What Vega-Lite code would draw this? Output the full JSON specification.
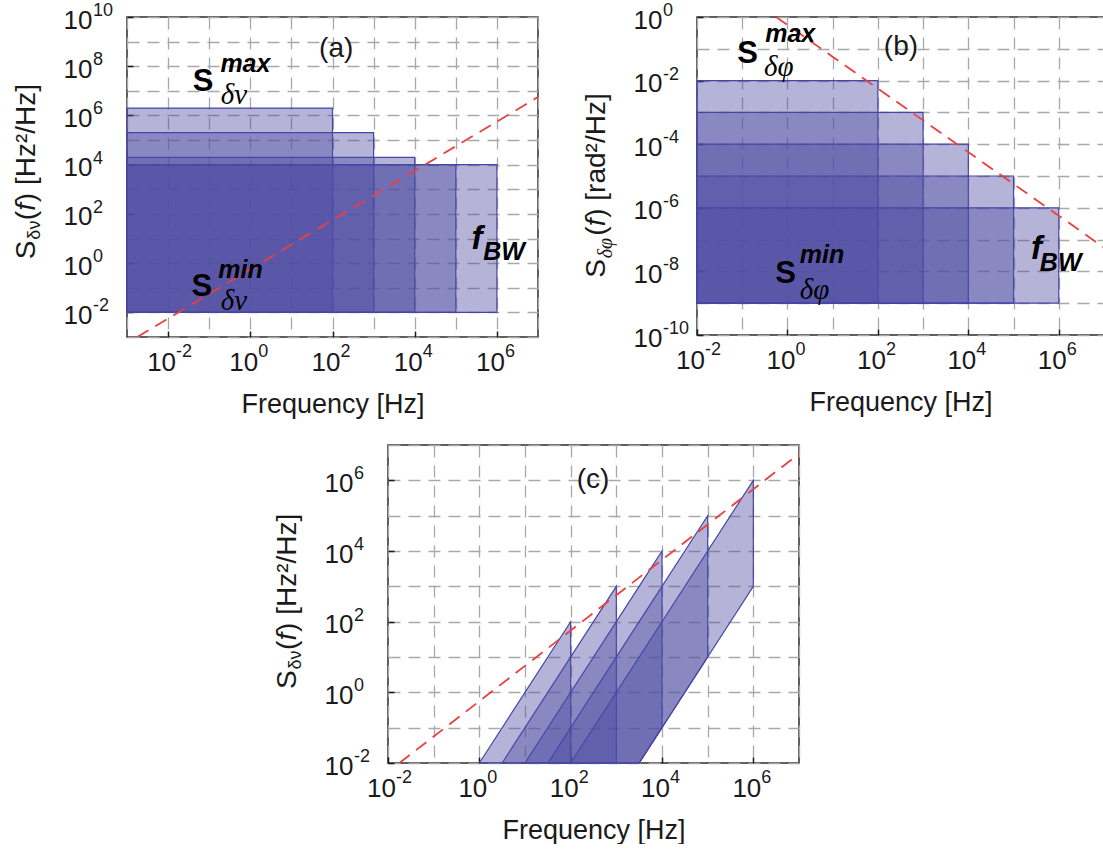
{
  "$schema": "https://vega.github.io/schema/vega-lite/v6.json",
  "background": "white",
  "padding": {"left": 12, "top": 1, "right": 0, "bottom": 0},
  "config": {
    "view": {"stroke": "#2b2b2b", "strokeWidth": 1.5},
    "font": "Liberation Sans",
    "axis": {
      "labelFont": "Liberation Sans", "labelFontSize": 26, "labelColor": "#1a1a1a",
      "titleFont": "Liberation Sans", "titleFontSize": 27, "titleFontWeight": "normal", "titleColor": "#1a1a1a",
      "grid": true, "gridColor": "#a8a8a8", "gridDash": [12, 8], "gridWidth": 1.3,
      "domain": false, "tickSize": -6, "tickWidth": 1.5,
      "labelFlush": false, "labelOverlap": false, "labelBound": false
    },
    "axisX": {"labelPadding": 18, "titlePadding": 16, "labelOffset": -7},
    "axisY": {"labelPadding": 70, "labelAlign": "left", "labelOffset": 3}
  },
  "datasets": {
    "rectA": [
      {"f": 0.001, "f2": 100, "s": 0.01, "s2": 2000000},
      {"f": 0.001, "f2": 1000, "s": 0.01, "s2": 200000},
      {"f": 0.001, "f2": 10000, "s": 0.01, "s2": 20000},
      {"f": 0.001, "f2": 100000, "s": 0.01, "s2": 10000},
      {"f": 0.001, "f2": 1000000, "s": 0.01, "s2": 10000}
    ],
    "rectB": [
      {"f": 0.01, "f2": 100, "s": 1e-9, "s2": 0.01},
      {"f": 0.01, "f2": 1000, "s": 1e-9, "s2": 0.001},
      {"f": 0.01, "f2": 10000, "s": 1e-9, "s2": 0.0001},
      {"f": 0.01, "f2": 100000, "s": 1e-9, "s2": 0.00001},
      {"f": 0.01, "f2": 1000000, "s": 1e-9, "s2": 0.000001}
    ],
    "areaC": [
      {"k": 1, "f": 1, "s": 0.01, "s2": 0.01},
      {"k": 1, "f": 100, "s": 100, "s2": 0.01},
      {"k": 2, "f": 3.162, "s": 0.01, "s2": 0.01},
      {"k": 2, "f": 1000, "s": 1000, "s2": 0.01},
      {"k": 3, "f": 10, "s": 0.01, "s2": 0.01},
      {"k": 3, "f": 3162, "s": 1000, "s2": 0.01},
      {"k": 3, "f": 10000, "s": 10000, "s2": 0.1},
      {"k": 4, "f": 31.62, "s": 0.01, "s2": 0.01},
      {"k": 4, "f": 3162, "s": 100, "s2": 0.01},
      {"k": 4, "f": 100000, "s": 100000, "s2": 10},
      {"k": 5, "f": 100, "s": 0.01, "s2": 0.01},
      {"k": 5, "f": 3162, "s": 10, "s2": 0.01},
      {"k": 5, "f": 1000000, "s": 1000000, "s2": 1000}
    ],
    "lineA": [{"f": 0.00178, "s": 0.001}, {"f": 10000000, "s": 5620000}],
    "lineB": [{"f": 0.562, "s": 1}, {"f": 10000000, "s": 5.62e-8}],
    "lineC": [{"f": 0.0178, "s": 0.01}, {"f": 10000000, "s": 5620000}],
    "textA": [
      {"f": 123, "s": 500000000, "t": "(a)", "r": "panel"},
      {"f": 0.0708, "s": 23000000, "t": "S", "r": "S"},
      {"f": 0.76, "s": 126000000, "t": "max", "r": "sup"},
      {"f": 0.4, "s": 7100000, "t": "δν", "r": "sub"},
      {"f": 0.066, "s": 0.105, "t": "S", "r": "S"},
      {"f": 0.58, "s": 0.52, "t": "min", "r": "sup"},
      {"f": 0.4, "s": 0.03, "t": "δν", "r": "sub"},
      {"f": 330000, "s": 9.5, "t": "f", "r": "f"},
      {"f": 1500000, "s": 2.8, "t": "BW", "r": "BW"}
    ],
    "textB": [
      {"f": 324, "s": 0.112, "t": "(b)", "r": "panel"},
      {"f": 0.132, "s": 0.068, "t": "S", "r": "S"},
      {"f": 1.15, "s": 0.3, "t": "max", "r": "sup"},
      {"f": 0.64, "s": 0.027, "t": "δφ", "r": "sub"},
      {"f": 0.91, "s": 8.5e-9, "t": "S", "r": "S"},
      {"f": 5.8, "s": 3.3e-8, "t": "min", "r": "sup"},
      {"f": 3.95, "s": 2.6e-9, "t": "δφ", "r": "sub"},
      {"f": 320000, "s": 5.2e-8, "t": "f", "r": "f"},
      {"f": 1100000, "s": 1.9e-8, "t": "BW", "r": "BW"}
    ],
    "textC": [
      {"f": 310, "s": 1000000, "t": "(c)", "r": "panel"}
    ],
    "titleA": [
      {"f": 0.001, "s": 1.456, "t": "S", "p": "S"},
      {"f": 0.001, "s": 1.456, "t": "δν", "p": "sub"},
      {"f": 0.001, "s": 1.456, "t": "(", "p": "o"},
      {"f": 0.001, "s": 1.456, "t": "f", "p": "fi"},
      {"f": 0.001, "s": 1.456, "t": ") [Hz²/Hz]", "p": "r"}
    ],
    "titleB": [
      {"f": 0.01, "s": 6.3e-9, "t": "S", "p": "S"},
      {"f": 0.01, "s": 6.3e-9, "t": "δφ", "p": "sub"},
      {"f": 0.01, "s": 6.3e-9, "t": "(", "p": "o"},
      {"f": 0.01, "s": 6.3e-9, "t": "f", "p": "fi"},
      {"f": 0.01, "s": 6.3e-9, "t": ") [rad²/Hz]", "p": "r"}
    ],
    "titleC": [
      {"f": 0.01, "s": 1.25, "t": "S", "p": "S"},
      {"f": 0.01, "s": 1.25, "t": "δν", "p": "sub"},
      {"f": 0.01, "s": 1.25, "t": "(", "p": "o"},
      {"f": 0.01, "s": 1.25, "t": "f", "p": "fi"},
      {"f": 0.01, "s": 1.25, "t": ") [Hz²/Hz]", "p": "r"}
    ],
    "expA": [
      {"f": 0.01, "s": 0.001, "t": "-2", "ax": "x"},
      {"f": 1, "s": 0.001, "t": "0", "ax": "x"},
      {"f": 100, "s": 0.001, "t": "2", "ax": "x"},
      {"f": 10000, "s": 0.001, "t": "4", "ax": "x"},
      {"f": 1000000, "s": 0.001, "t": "6", "ax": "x"},
      {"f": 0.001, "s": 0.01, "t": "-2", "ax": "y"},
      {"f": 0.001, "s": 1, "t": "0", "ax": "y"},
      {"f": 0.001, "s": 100, "t": "2", "ax": "y"},
      {"f": 0.001, "s": 10000, "t": "4", "ax": "y"},
      {"f": 0.001, "s": 1000000, "t": "6", "ax": "y"},
      {"f": 0.001, "s": 100000000, "t": "8", "ax": "y"},
      {"f": 0.001, "s": 10000000000, "t": "10", "ax": "y"}
    ],
    "expB": [
      {"f": 0.01, "s": 1e-10, "t": "-2", "ax": "x"},
      {"f": 1, "s": 1e-10, "t": "0", "ax": "x"},
      {"f": 100, "s": 1e-10, "t": "2", "ax": "x"},
      {"f": 10000, "s": 1e-10, "t": "4", "ax": "x"},
      {"f": 1000000, "s": 1e-10, "t": "6", "ax": "x"},
      {"f": 0.01, "s": 1, "t": "0", "ax": "y"},
      {"f": 0.01, "s": 0.01, "t": "-2", "ax": "y"},
      {"f": 0.01, "s": 0.0001, "t": "-4", "ax": "y"},
      {"f": 0.01, "s": 0.000001, "t": "-6", "ax": "y"},
      {"f": 0.01, "s": 1e-8, "t": "-8", "ax": "y"},
      {"f": 0.01, "s": 1e-10, "t": "-10", "ax": "y"}
    ],
    "expC": [
      {"f": 0.01, "s": 0.01, "t": "-2", "ax": "x"},
      {"f": 1, "s": 0.01, "t": "0", "ax": "x"},
      {"f": 100, "s": 0.01, "t": "2", "ax": "x"},
      {"f": 10000, "s": 0.01, "t": "4", "ax": "x"},
      {"f": 1000000, "s": 0.01, "t": "6", "ax": "x"},
      {"f": 0.01, "s": 0.01, "t": "-2", "ax": "y"},
      {"f": 0.01, "s": 1, "t": "0", "ax": "y"},
      {"f": 0.01, "s": 100, "t": "2", "ax": "y"},
      {"f": 0.01, "s": 10000, "t": "4", "ax": "y"},
      {"f": 0.01, "s": 1000000, "t": "6", "ax": "y"}
    ],
    "spacer": [{"blank": 1}]
  },
  "spacing": 16,
  "vconcat": [
    {
      "bounds": "flush",
      "spacing": 159,
      "hconcat": [
        {
          "width": 411, "height": 320,
          "encoding": {
            "x": {"field": "f", "type": "quantitative", "title": "Frequency [Hz]",
              "scale": {"type": "log", "domain": [0.001, 10000000], "nice": false},
              "axis": {"values": [0.001, 0.01, 0.1, 1, 10, 100, 1000, 10000, 100000, 1000000, 10000000],
                "tickColor": {"condition": {"test": "abs(round(log(datum.value)/LN10)) % 2 == 1", "value": "transparent"}, "value": "#1a1a1a"},
                "labelExpr": "abs(round(log(datum.value)/LN10)) % 2 == 1 ? '' : '10'"}},
            "y": {"field": "s", "type": "quantitative", "title": null,
              "scale": {"type": "log", "domain": [0.001, 10000000000], "nice": false},
              "axis": {"values": [0.001, 0.01, 0.1, 1, 10, 100, 1000, 10000, 100000, 1000000, 10000000, 100000000, 1000000000, 10000000000],
                "tickColor": {"condition": {"test": "abs(round(log(datum.value)/LN10)) % 2 == 1", "value": "transparent"}, "value": "#1a1a1a"},
                "labelExpr": "abs(round(log(datum.value)/LN10)) % 2 == 1 ? '' : '10'"}}
          },
          "layer": [
            {"data": {"name": "rectA"}, "mark": {"type": "rect", "fill": "#4f4ca3", "fillOpacity": 0.42, "stroke": "#4646a8", "strokeWidth": 1.2},
              "encoding": {"x2": {"field": "f2"}, "y2": {"field": "s2"}}},
            {"data": {"name": "lineA"}, "mark": {"type": "line", "color": "#e8413f", "strokeDash": [13, 8], "strokeWidth": 1.8, "clip": true}, "encoding": {}},
            {"data": {"name": "expA"}, "transform": [{"filter": "datum.ax == 'x'"}], "mark": {"type": "text", "font": "Liberation Sans", "fontSize": 18, "color": "#1a1a1a", "align": "left", "baseline": "middle", "dx": 8, "dy": 15}, "encoding": {"text": {"field": "t"}}},
            {"data": {"name": "expA"}, "transform": [{"filter": "datum.ax == 'y'"}], "mark": {"type": "text", "font": "Liberation Sans", "fontSize": 18, "color": "#1a1a1a", "align": "left", "baseline": "middle", "dx": -34, "dy": -6}, "encoding": {"text": {"field": "t"}}},
            {"data": {"name": "titleA"}, "transform": [{"filter": "datum.p == 'S'"}], "mark": {"type": "text", "font": "Liberation Sans", "fontSize": 28, "color": "#1a1a1a", "angle": -90, "align": "left", "baseline": "alphabetic", "dx": 0, "dy": -92}, "encoding": {"text": {"field": "t"}}},
            {"data": {"name": "titleA"}, "transform": [{"filter": "datum.p == 'sub'"}], "mark": {"type": "text", "font": "Liberation Sans", "fontSize": 18, "color": "#1a1a1a", "angle": -90, "align": "left", "baseline": "alphabetic", "dx": 19.5, "dy": -87}, "encoding": {"text": {"field": "t"}}},
            {"data": {"name": "titleA"}, "transform": [{"filter": "datum.p == 'o'"}], "mark": {"type": "text", "font": "Liberation Sans", "fontSize": 28, "color": "#1a1a1a", "angle": -90, "align": "left", "baseline": "alphabetic", "dx": 39, "dy": -92}, "encoding": {"text": {"field": "t"}}},
            {"data": {"name": "titleA"}, "transform": [{"filter": "datum.p == 'fi'"}], "mark": {"type": "text", "font": "Liberation Sans", "fontSize": 28, "fontStyle": "italic", "color": "#1a1a1a", "angle": -90, "align": "left", "baseline": "alphabetic", "dx": 48.5, "dy": -92}, "encoding": {"text": {"field": "t"}}},
            {"data": {"name": "titleA"}, "transform": [{"filter": "datum.p == 'r'"}], "mark": {"type": "text", "font": "Liberation Sans", "fontSize": 28, "color": "#1a1a1a", "angle": -90, "align": "left", "baseline": "alphabetic", "dx": 57, "dy": -92}, "encoding": {"text": {"field": "t"}}},
            {"data": {"name": "textA"}, "transform": [{"filter": "datum.r == 'panel'"}], "mark": {"type": "text", "font": "Liberation Sans", "fontSize": 28, "color": "#1a1a1a"}, "encoding": {"text": {"field": "t"}}},
            {"data": {"name": "textA"}, "transform": [{"filter": "datum.r == 'S'"}], "mark": {"type": "text", "font": "Liberation Sans", "fontSize": 31, "fontWeight": "bold", "color": "#000"}, "encoding": {"text": {"field": "t"}}},
            {"data": {"name": "textA"}, "transform": [{"filter": "datum.r == 'sup' || datum.r == 'BW'"}], "mark": {"type": "text", "font": "Liberation Sans", "fontSize": 25, "fontWeight": "bold", "fontStyle": "italic", "color": "#000"}, "encoding": {"text": {"field": "t"}}},
            {"data": {"name": "textA"}, "transform": [{"filter": "datum.r == 'sub'"}], "mark": {"type": "text", "font": "Liberation Serif", "fontSize": 29, "fontStyle": "italic", "color": "#000"}, "encoding": {"text": {"field": "t"}}},
            {"data": {"name": "textA"}, "transform": [{"filter": "datum.r == 'f'"}], "mark": {"type": "text", "font": "Liberation Sans", "fontSize": 33, "fontWeight": "bold", "fontStyle": "italic", "color": "#000"}, "encoding": {"text": {"field": "t"}}}
          ]
        },
        {
          "width": 407, "height": 318,
          "encoding": {
            "x": {"field": "f", "type": "quantitative", "title": "Frequency [Hz]",
              "scale": {"type": "log", "domain": [0.01, 10000000], "nice": false},
              "axis": {"values": [0.01, 0.1, 1, 10, 100, 1000, 10000, 100000, 1000000, 10000000],
                "tickColor": {"condition": {"test": "abs(round(log(datum.value)/LN10)) % 2 == 1", "value": "transparent"}, "value": "#1a1a1a"},
                "labelExpr": "abs(round(log(datum.value)/LN10)) % 2 == 1 ? '' : '10'"}},
            "y": {"field": "s", "type": "quantitative", "title": null,
              "scale": {"type": "log", "domain": [1e-10, 1], "nice": false},
              "axis": {"values": [1e-10, 1e-9, 1e-8, 1e-7, 1e-6, 1e-5, 1e-4, 0.001, 0.01, 0.1, 1],
                "tickColor": {"condition": {"test": "abs(round(log(datum.value)/LN10)) % 2 == 1", "value": "transparent"}, "value": "#1a1a1a"},
                "labelExpr": "abs(round(log(datum.value)/LN10)) % 2 == 1 ? '' : '10'"}}
          },
          "layer": [
            {"data": {"name": "rectB"}, "mark": {"type": "rect", "fill": "#4f4ca3", "fillOpacity": 0.42, "stroke": "#4646a8", "strokeWidth": 1.2},
              "encoding": {"x2": {"field": "f2"}, "y2": {"field": "s2"}}},
            {"data": {"name": "lineB"}, "mark": {"type": "line", "color": "#e8413f", "strokeDash": [13, 8], "strokeWidth": 1.8, "clip": true}, "encoding": {}},
            {"data": {"name": "expB"}, "transform": [{"filter": "datum.ax == 'x'"}], "mark": {"type": "text", "font": "Liberation Sans", "fontSize": 18, "color": "#1a1a1a", "align": "left", "baseline": "middle", "dx": 8, "dy": 15}, "encoding": {"text": {"field": "t"}}},
            {"data": {"name": "expB"}, "transform": [{"filter": "datum.ax == 'y'"}], "mark": {"type": "text", "font": "Liberation Sans", "fontSize": 18, "color": "#1a1a1a", "align": "left", "baseline": "middle", "dx": -34, "dy": -6}, "encoding": {"text": {"field": "t"}}},
            {"data": {"name": "titleB"}, "transform": [{"filter": "datum.p == 'S'"}], "mark": {"type": "text", "font": "Liberation Sans", "fontSize": 28, "color": "#1a1a1a", "angle": -90, "align": "left", "baseline": "alphabetic", "dx": 0, "dy": -92}, "encoding": {"text": {"field": "t"}}},
            {"data": {"name": "titleB"}, "transform": [{"filter": "datum.p == 'sub'"}], "mark": {"type": "text", "font": "Liberation Serif", "fontSize": 20, "fontStyle": "italic", "color": "#1a1a1a", "angle": -90, "align": "left", "baseline": "alphabetic", "dx": 19.5, "dy": -85}, "encoding": {"text": {"field": "t"}}},
            {"data": {"name": "titleB"}, "transform": [{"filter": "datum.p == 'o'"}], "mark": {"type": "text", "font": "Liberation Sans", "fontSize": 28, "color": "#1a1a1a", "angle": -90, "align": "left", "baseline": "alphabetic", "dx": 42, "dy": -92}, "encoding": {"text": {"field": "t"}}},
            {"data": {"name": "titleB"}, "transform": [{"filter": "datum.p == 'fi'"}], "mark": {"type": "text", "font": "Liberation Sans", "fontSize": 28, "fontStyle": "italic", "color": "#1a1a1a", "angle": -90, "align": "left", "baseline": "alphabetic", "dx": 51.5, "dy": -92}, "encoding": {"text": {"field": "t"}}},
            {"data": {"name": "titleB"}, "transform": [{"filter": "datum.p == 'r'"}], "mark": {"type": "text", "font": "Liberation Sans", "fontSize": 28, "color": "#1a1a1a", "angle": -90, "align": "left", "baseline": "alphabetic", "dx": 60, "dy": -92}, "encoding": {"text": {"field": "t"}}},
            {"data": {"name": "textB"}, "transform": [{"filter": "datum.r == 'panel'"}], "mark": {"type": "text", "font": "Liberation Sans", "fontSize": 28, "color": "#1a1a1a"}, "encoding": {"text": {"field": "t"}}},
            {"data": {"name": "textB"}, "transform": [{"filter": "datum.r == 'S'"}], "mark": {"type": "text", "font": "Liberation Sans", "fontSize": 31, "fontWeight": "bold", "color": "#000"}, "encoding": {"text": {"field": "t"}}},
            {"data": {"name": "textB"}, "transform": [{"filter": "datum.r == 'sup' || datum.r == 'BW'"}], "mark": {"type": "text", "font": "Liberation Sans", "fontSize": 25, "fontWeight": "bold", "fontStyle": "italic", "color": "#000"}, "encoding": {"text": {"field": "t"}}},
            {"data": {"name": "textB"}, "transform": [{"filter": "datum.r == 'sub'"}], "mark": {"type": "text", "font": "Liberation Serif", "fontSize": 29, "fontStyle": "italic", "color": "#000"}, "encoding": {"text": {"field": "t"}}},
            {"data": {"name": "textB"}, "transform": [{"filter": "datum.r == 'f'"}], "mark": {"type": "text", "font": "Liberation Sans", "fontSize": 33, "fontWeight": "bold", "fontStyle": "italic", "color": "#000"}, "encoding": {"text": {"field": "t"}}}
          ]
        }
      ]
    },
    {
      "bounds": "flush",
      "spacing": 159,
      "hconcat": [
        {
          "width": 102, "height": 10,
          "data": {"name": "spacer"},
          "mark": {"type": "point", "opacity": 0},
          "view": {"stroke": null}
        },
        {
          "width": 411, "height": 318,
          "encoding": {
            "x": {"field": "f", "type": "quantitative", "title": "Frequency [Hz]",
              "scale": {"type": "log", "domain": [0.01, 10000000], "nice": false},
              "axis": {"values": [0.01, 0.1, 1, 10, 100, 1000, 10000, 100000, 1000000, 10000000],
                "tickColor": {"condition": {"test": "abs(round(log(datum.value)/LN10)) % 2 == 1", "value": "transparent"}, "value": "#1a1a1a"},
                "labelExpr": "abs(round(log(datum.value)/LN10)) % 2 == 1 ? '' : '10'"}},
            "y": {"field": "s", "type": "quantitative", "title": null,
              "scale": {"type": "log", "domain": [0.01, 10000000], "nice": false},
              "axis": {"values": [0.01, 0.1, 1, 10, 100, 1000, 10000, 100000, 1000000, 10000000],
                "tickColor": {"condition": {"test": "abs(round(log(datum.value)/LN10)) % 2 == 1", "value": "transparent"}, "value": "#1a1a1a"},
                "labelExpr": "abs(round(log(datum.value)/LN10)) % 2 == 1 ? '' : '10'"}}
          },
          "layer": [
            {"data": {"name": "areaC"}, "mark": {"type": "area", "fill": "#4f4ca3", "fillOpacity": 0.42, "stroke": "#4646a8", "strokeWidth": 1.2, "line": false},
              "encoding": {"y2": {"field": "s2"}, "detail": {"field": "k", "type": "nominal"}}},
            {"data": {"name": "lineC"}, "mark": {"type": "line", "color": "#e8413f", "strokeDash": [13, 8], "strokeWidth": 1.8, "clip": true}, "encoding": {}},
            {"data": {"name": "expC"}, "transform": [{"filter": "datum.ax == 'x'"}], "mark": {"type": "text", "font": "Liberation Sans", "fontSize": 18, "color": "#1a1a1a", "align": "left", "baseline": "middle", "dx": 8, "dy": 15}, "encoding": {"text": {"field": "t"}}},
            {"data": {"name": "expC"}, "transform": [{"filter": "datum.ax == 'y'"}], "mark": {"type": "text", "font": "Liberation Sans", "fontSize": 18, "color": "#1a1a1a", "align": "left", "baseline": "middle", "dx": -34, "dy": -6}, "encoding": {"text": {"field": "t"}}},
            {"data": {"name": "titleC"}, "transform": [{"filter": "datum.p == 'S'"}], "mark": {"type": "text", "font": "Liberation Sans", "fontSize": 28, "color": "#1a1a1a", "angle": -90, "align": "left", "baseline": "alphabetic", "dx": 0, "dy": -92}, "encoding": {"text": {"field": "t"}}},
            {"data": {"name": "titleC"}, "transform": [{"filter": "datum.p == 'sub'"}], "mark": {"type": "text", "font": "Liberation Sans", "fontSize": 18, "color": "#1a1a1a", "angle": -90, "align": "left", "baseline": "alphabetic", "dx": 19.5, "dy": -87}, "encoding": {"text": {"field": "t"}}},
            {"data": {"name": "titleC"}, "transform": [{"filter": "datum.p == 'o'"}], "mark": {"type": "text", "font": "Liberation Sans", "fontSize": 28, "color": "#1a1a1a", "angle": -90, "align": "left", "baseline": "alphabetic", "dx": 39, "dy": -92}, "encoding": {"text": {"field": "t"}}},
            {"data": {"name": "titleC"}, "transform": [{"filter": "datum.p == 'fi'"}], "mark": {"type": "text", "font": "Liberation Sans", "fontSize": 28, "fontStyle": "italic", "color": "#1a1a1a", "angle": -90, "align": "left", "baseline": "alphabetic", "dx": 48.5, "dy": -92}, "encoding": {"text": {"field": "t"}}},
            {"data": {"name": "titleC"}, "transform": [{"filter": "datum.p == 'r'"}], "mark": {"type": "text", "font": "Liberation Sans", "fontSize": 28, "color": "#1a1a1a", "angle": -90, "align": "left", "baseline": "alphabetic", "dx": 57, "dy": -92}, "encoding": {"text": {"field": "t"}}},
            {"data": {"name": "textC"}, "mark": {"type": "text", "font": "Liberation Sans", "fontSize": 28, "color": "#1a1a1a"}, "encoding": {"text": {"field": "t"}}}
          ]
        }
      ]
    }
  ]
}
